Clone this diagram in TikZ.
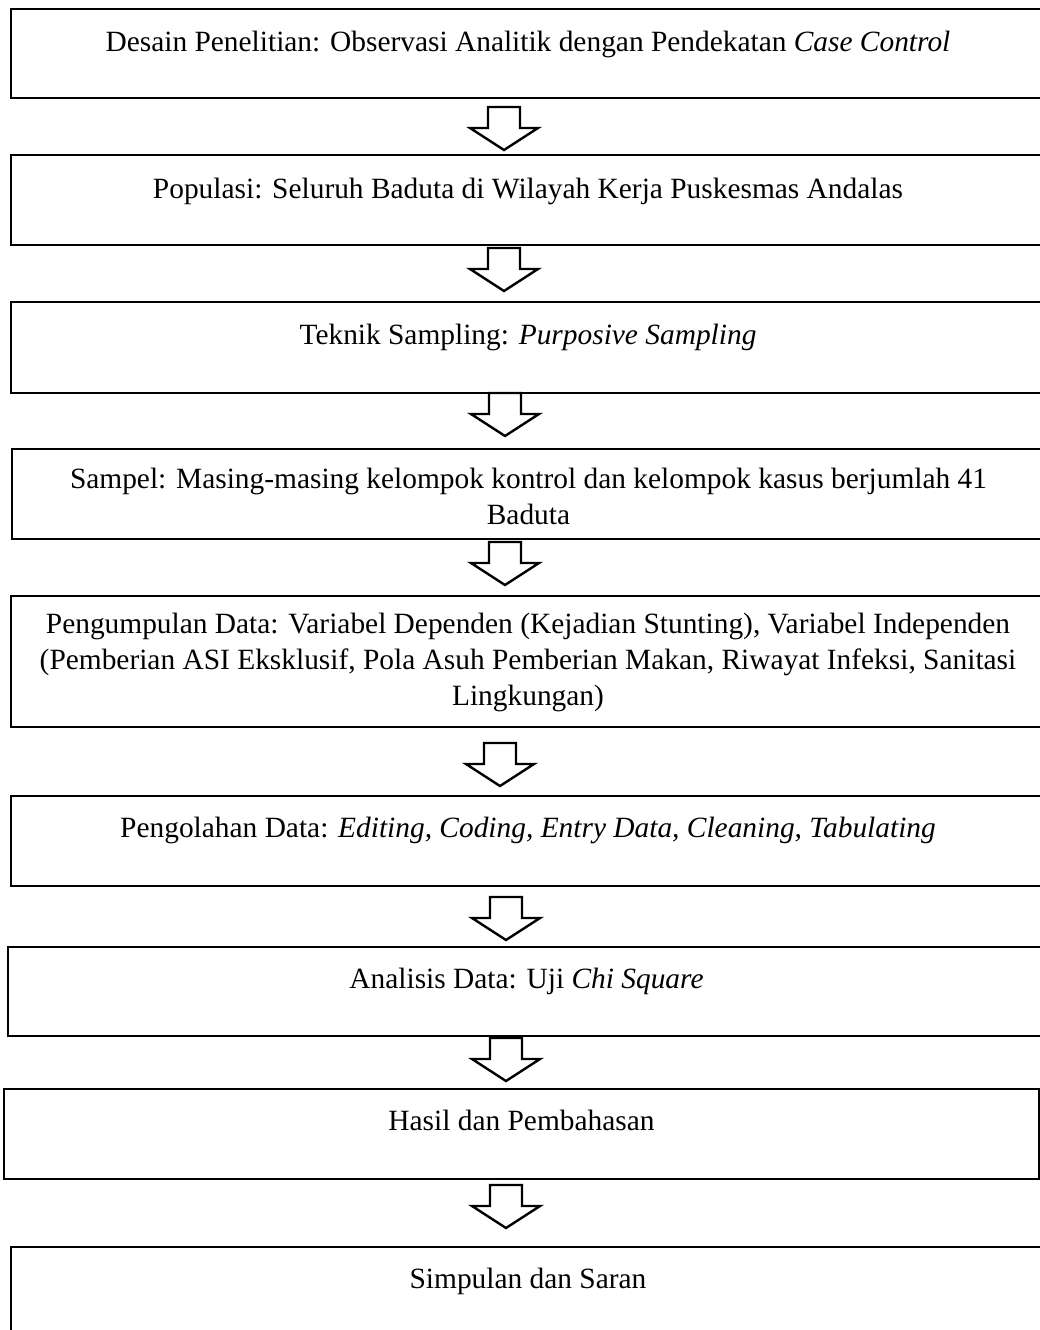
\documentclass[tikz,border=0pt]{standalone}
\usepackage{fontspec}
\setmainfont{Liberation Serif}
\begin{document}
\begin{tikzpicture}[x=1pt,y=-1pt,
  box/.style={draw=black, line width=2.6pt, rectangle, anchor=north west, inner sep=0pt, outer sep=0pt},
  txt/.style={anchor=base, inner sep=0pt, font=\fontsize{29.4}{36}\selectfont, align=center},
  barrow/.style={draw=black, line width=2.4pt, fill=white, line join=miter}]
\path[use as bounding box, fill=white] (0,0) rectangle (1040,1330);
\clip (0,0) rectangle (1040,1330);
% boxes
\node[box, minimum width=1034, minimum height=89]  (b1) at (11,9) {};
\node[box, minimum width=1034, minimum height=90]  (b2) at (11,155) {};
\node[box, minimum width=1034, minimum height=91]  (b3) at (11,302) {};
\node[box, minimum width=1033, minimum height=90]  (b4) at (12,449) {};
\node[box, minimum width=1034, minimum height=131] (b5) at (11,596) {};
\node[box, minimum width=1034, minimum height=90]  (b6) at (11,796) {};
\node[box, minimum width=1037, minimum height=89]  (b7) at (8,947) {};
\node[box, minimum width=1035, minimum height=90]  (b8) at (4,1089) {};
\node[box, minimum width=1034, minimum height=90]  (b9) at (11,1247) {};
% texts (base anchor = baseline of the last line)
\node[txt] (t1) at ([yshift=-43pt]b1.north) {Desain Penelitian: Observasi Analitik dengan Pendekatan \textit{Case Control}};
\node[txt] (t2) at ([yshift=-43pt]b2.north) {Populasi: Seluruh Baduta di Wilayah Kerja Puskesmas Andalas};
\node[txt] (t3) at ([yshift=-42pt]b3.north) {Teknik Sampling: \textit{Purposive Sampling}};
\node[txt] (t4) at ([yshift=-75pt]b4.north) {Sampel: Masing-masing kelompok kontrol dan kelompok kasus berjumlah 41\\Baduta};
\node[txt] (t5) at ([yshift=-109pt]b5.north) {Pengumpulan Data: Variabel Dependen (Kejadian Stunting), Variabel Independen\\(Pemberian ASI Eksklusif, Pola Asuh Pemberian Makan, Riwayat Infeksi, Sanitasi\\Lingkungan)};
\node[txt] (t6) at ([yshift=-41pt]b6.north) {Pengolahan Data: \textit{Editing, Coding, Entry Data, Cleaning, Tabulating}};
\node[txt] (t7) at ([yshift=-41pt]b7.north) {Analisis Data: Uji \textit{Chi Square}};
\node[txt] (t8) at ([yshift=-41pt]b8.north) {Hasil dan Pembahasan};
\node[txt] (t9) at ([yshift=-41pt]b9.north) {Simpulan dan Saran};
% block arrows
\coordinate (a1) at (504,107);
\coordinate (a2) at (504,248);
\coordinate (a3) at (505,393);
\coordinate (a4) at (505,542);
\coordinate (a5) at (500,743);
\coordinate (a6) at (506,897);
\coordinate (a7) at (506,1038);
\coordinate (a8) at (506,1185);
\foreach \a in {a1,a2,a3,a4,a5,a6,a7,a8}{
  \draw[barrow] (\a) ++(-16,0) -- ++(32,0) -- ++(0,21) -- ++(18,0) -- ++(-34,22) -- ++(-34,-22) -- ++(18,0) -- cycle;
}
\end{tikzpicture}
\end{document}
